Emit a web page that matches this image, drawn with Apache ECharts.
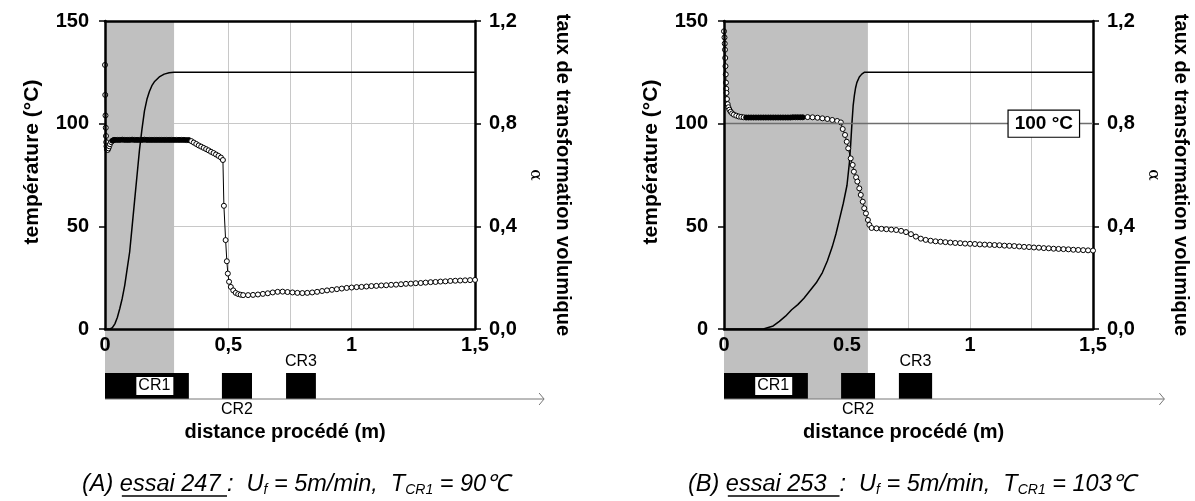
<!DOCTYPE html>
<html><head><meta charset="utf-8">
<script src="https://cdn.jsdelivr.net/npm/echarts@6/dist/echarts.min.js"></script>
<style>html,body{margin:0;padding:0;background:#fff}#c{width:1195px;height:501px}</style>
</head><body><div id="c"></div>
<script>
// ---------- DATA ----------
const xTickLabelsA = ['0','','0,5','','1','','1,5'];
const xTickLabelsB = ['0','','0.5','','1','','1,5'];
const tempTickLabels = ['0','50','100','150'];
const alphaTickLabels = ['0,0','0,4','0,8','1,2'];

// (A) essai 247 : temperature (°C) vs distance (m)
const tempA = [[0,128.6],[0.001,114],[0.002,104],[0.003,98],[0.004,94],[0.005,91],[0.006,89],[0.008,87.5],[0.011,87.2],[0.014,88],[0.017,89],[0.02,90],[0.025,91],[0.03,91.7],[0.035,92],[0.04,92.1],
[0.05,92.1],[0.06,92.1],[0.07,92.2],[0.08,92.1],[0.09,92.1],[0.10,92.1],[0.11,92.2],[0.12,92.1],[0.13,92.1],[0.14,92.1],[0.15,92.1],[0.16,92.2],[0.17,92.1],[0.18,92.1],[0.19,92.1],[0.20,92.1],[0.21,92.1],[0.22,92.1],[0.23,92.1],[0.24,92.1],[0.25,92.1],[0.26,92.1],[0.27,92.1],[0.28,92.1],[0.29,92.1],[0.30,92.1],[0.31,92.1],[0.32,92.1],[0.33,92],[0.34,92],
[0.35,91.5],[0.36,90.8],[0.37,90.1],[0.38,89.4],[0.39,88.8],[0.40,88.2],[0.41,87.6],[0.42,87],[0.43,86.3],[0.44,85.7],[0.45,85],[0.46,84.3],[0.47,83.5],[0.478,82.3],
[0.482,60],[0.489,43.3],[0.494,33],[0.498,27],[0.503,23],[0.51,20.5],[0.52,18.8],[0.53,17.6],[0.54,17],[0.55,16.7],[0.56,16.5],
[0.58,16.5],[0.60,16.6],[0.62,16.8],[0.64,17.1],[0.66,17.4],[0.68,17.8],[0.70,18.1],[0.72,18.2],[0.74,18],[0.76,17.8],[0.78,17.6],[0.80,17.5],[0.82,17.6],[0.84,17.8],[0.86,18.1],[0.88,18.5],[0.90,18.8],[0.92,19.1],[0.94,19.4],[0.96,19.7],[0.98,20],[1.00,20.2],[1.02,20.4],[1.04,20.5],[1.06,20.7],[1.08,20.9],[1.10,21],[1.12,21.2],[1.14,21.3],[1.16,21.5],[1.18,21.6],[1.20,21.8],[1.22,22],[1.24,22.1],[1.26,22.3],[1.28,22.4],[1.30,22.6],[1.32,22.8],[1.34,22.9],[1.36,23.1],[1.38,23.2],[1.40,23.4],[1.42,23.5],[1.44,23.6],[1.46,23.7],[1.48,23.8],[1.50,23.9]];
// (A) alpha (volume transformation rate)
const alphaA = [[0,0],[0.02,0],[0.03,0.005],[0.04,0.02],[0.05,0.045],[0.06,0.08],[0.07,0.12],[0.08,0.17],[0.09,0.235],[0.10,0.30],[0.11,0.40],[0.12,0.50],[0.13,0.60],[0.14,0.70],[0.15,0.78],[0.16,0.85],[0.17,0.895],[0.18,0.925],[0.19,0.948],[0.20,0.963],[0.22,0.982],[0.24,0.993],[0.26,0.998],[0.28,1.0],[1.5,1.0]];

// (B) essai 253
const tempB = [[0,145],[0.002,142],[0.003,139],[0.004,136],[0.005,132],[0.006,128],[0.007,124],[0.008,120],[0.009,117],[0.01,115],[0.012,112],[0.015,109.5],[0.018,108],[0.022,106.8],[0.027,105.8],[0.033,105],[0.04,104.4],[0.05,103.9],[0.06,103.5],[0.07,103.3],[0.08,103.1],
[0.09,103],[0.10,103],[0.11,103],[0.12,103],[0.13,103],[0.14,103],[0.15,103],[0.16,103],[0.17,103],[0.18,103],[0.19,103],[0.20,103],[0.21,103],[0.22,103],[0.23,103],[0.24,103],[0.25,103],[0.26,103],[0.27,103],[0.28,103.1],[0.29,103.1],[0.30,103.1],[0.31,103.1],[0.32,103.1],
[0.34,103.2],[0.36,103.1],[0.38,102.9],[0.40,102.6],[0.42,102.3],[0.44,101.8],[0.46,101.3],[0.475,100.6],
[0.4825,97.4],[0.492,94.5],[0.499,91.2],[0.505,88],[0.515,83.1],[0.523,79.9],[0.528,76.6],[0.537,73.9],[0.542,71.8],[0.55,68.5],[0.556,65.3],[0.564,62],[0.57,58.8],[0.577,56.3],[0.585,53.1],[0.591,50.7],[0.60,49.2],
[0.62,49],[0.64,48.8],[0.66,48.6],[0.68,48.4],[0.70,48.2],[0.72,47.8],[0.74,47.2],[0.76,46.2],[0.78,45],[0.80,44],[0.82,43.4],[0.84,43],[0.86,42.7],[0.88,42.5],[0.90,42.3],[0.92,42.1],[0.94,41.9],[0.96,41.8],[0.98,41.6],[1.00,41.5],[1.02,41.4],[1.04,41.2],[1.06,41.1],[1.08,41],[1.10,40.9],[1.12,40.8],[1.14,40.6],[1.16,40.5],[1.18,40.4],[1.20,40.2],[1.22,40],[1.24,39.9],[1.26,39.7],[1.28,39.6],[1.30,39.4],[1.32,39.3],[1.34,39.1],[1.36,39],[1.38,38.9],[1.40,38.8],[1.42,38.6],[1.44,38.5],[1.46,38.4],[1.48,38.3],[1.50,38.2]];
const alphaB = [[0,0],[0.11,0],[0.16,0],[0.2,0.012],[0.225,0.03],[0.25,0.05],[0.275,0.075],[0.3,0.095],[0.325,0.12],[0.35,0.15],[0.375,0.18],[0.4,0.22],[0.42,0.265],[0.44,0.32],[0.455,0.37],[0.47,0.43],[0.485,0.49],[0.50,0.56],[0.51,0.65],[0.515,0.72],[0.52,0.80],[0.525,0.87],[0.53,0.91],[0.535,0.94],[0.54,0.96],[0.55,0.982],[0.56,0.993],[0.57,1.0],[1.5,1.0]];

// distance ranges where the measured points are so dense they print as a solid band
const denseA = [0.03, 0.345];
const denseB = [0.085, 0.325];
// shaded zone (CR1 influence) extents, m
const grayA = [[0, 0.28]];
const grayB = [[0, 0.585]];
// cooling rollers: names, start, end (m)
const crNames = ['CR1','CR2','CR3'];
const crA = [[0,0.34],[0.474,0.596],[0.734,0.855]];
const crB = [[0,0.341],[0.476,0.614],[0.711,0.846]];
const crLabelPlace = ['inside','below','above'];
const crLabelX = [0.2, null, null];
const arrowA = [[0, 1.78]];
const arrowB = [[0, 1.79]];
const refTempB = [100];
const refLabelB = [[1.3, 100]];

// ---------- CHART ----------
const FONT = '"Liberation Sans", Arial, Helvetica, sans-serif';
const chart = echarts.init(document.getElementById('c'), null, {renderer:'canvas'});
const bold = {color:'#000', fontWeight:'bold', fontSize:20, fontFamily:FONT};

function xAxes(gi, labels){
  const base = {gridIndex:gi, type:'value', min:0, max:1.5, interval:0.25};
  return [
    Object.assign({}, base, {position:'bottom', z:0, axisLine:{show:false}, axisTick:{show:false}, axisLabel:{show:false},
      splitLine:{show:true, lineStyle:{color:'#c8c8c8', width:1}}}),
    Object.assign({}, base, {position:'bottom', z:10, axisLine:{show:true, onZero:false, lineStyle:{color:'#000', width:2.5}},
      axisTick:{show:false}, splitLine:{show:false},
      axisLabel:Object.assign({show:true, margin:6, formatter:(v)=>labels[Math.round(v/0.25)]}, bold),
      name:'distance procédé (m)', nameLocation:'middle', nameGap:93, nameTextStyle:Object.assign({}, bold, {padding:[0,10,0,0]})}),
    Object.assign({}, base, {position:'top', z:10, axisLine:{show:true, onZero:false, lineStyle:{color:'#000', width:2.5}},
      axisTick:{show:false}, axisLabel:{show:false}, splitLine:{show:false}})
  ];
}
function yAxes(gi){
  return [
    {gridIndex:gi, type:'value', min:0, max:150, interval:50, position:'left', z:10,
      axisLine:{show:true, onZero:false, lineStyle:{color:'#000', width:2.5}},
      axisTick:{show:true, length:6, lineStyle:{color:'#000', width:1.5}},
      axisLabel:Object.assign({margin:16, formatter:(v)=>tempTickLabels[Math.round(v/50)]}, bold),
      splitLine:{show:false},
      name:'température (°C)', nameLocation:'middle', nameRotate:90, nameGap:62,
      nameTextStyle:Object.assign({}, bold, {fontSize:21, padding:[0,0,0,26]})},
    {gridIndex:gi, type:'value', min:0, max:1.2, interval:0.4, position:'right', z:0,
      axisLine:{show:true, onZero:false, lineStyle:{color:'#000', width:2.5}},
      axisTick:{show:true, length:6, lineStyle:{color:'#000', width:1.5}},
      axisLabel:Object.assign({margin:14, formatter:(v)=>alphaTickLabels[Math.round(v/0.4)]}, bold),
      splitLine:{show:true, lineStyle:{color:'#c8c8c8', width:1}},
      name:'{a|taux de transformation volumique}\n{b|α}', nameLocation:'middle', nameRotate:-90, nameGap:46,
      nameTextStyle:{color:'#000', fontFamily:FONT, rich:{a:{fontSize:20, fontWeight:'bold', lineHeight:28, fontFamily:FONT, color:'#000'}, b:{fontSize:17, lineHeight:28, fontFamily:'"DejaVu Serif", serif', color:'#000'}}}}
  ];
}

function grayRender(params, api){
  const a = api.coord([api.value(0), 150]);
  const b = api.coord([api.value(1), 0]);
  return {type:'rect', shape:{x:a[0], y:a[1], width:b[0]-a[0], height:b[1]-a[1]+70}, style:{fill:'#c0c0c0'}};
}
function crRender(params, api){
  const i = params.dataIndex;
  const p0 = api.coord([api.value(0), 0]);
  const p1 = api.coord([api.value(1), 0]);
  const top = p0[1] + 44, h = 26;
  const children = [{type:'rect', shape:{x:p0[0], y:top, width:p1[0]-p0[0], height:h}, style:{fill:'#000'}}];
  const place = crLabelPlace[i];
  const font = '16px ' + FONT;
  if (place === 'inside'){
    const cx = api.coord([crLabelX[i], 0])[0];
    children.push({type:'rect', shape:{x:cx-18, y:top+4, width:37, height:18}, style:{fill:'#fff'}});
    children.push({type:'text', style:{text:crNames[i], x:cx, y:top+13, align:'center', verticalAlign:'middle', font:font, fill:'#000'}});
  } else {
    const cx = (p0[0]+p1[0])/2;
    const ty = place === 'below' ? top + h + 11 : top - 11;
    children.push({type:'text', style:{text:crNames[i], x:cx, y:ty, align:'center', verticalAlign:'middle', font:font, fill:'#000'}});
  }
  return {type:'group', children};
}
function arrowRender(params, api){
  const p0 = api.coord([api.value(0), 0]);
  const p1 = api.coord([api.value(1), 0]);
  const y = p0[1] + 70;
  return {type:'group', children:[
    {type:'line', shape:{x1:p0[0], y1:y, x2:p1[0], y2:y}, style:{stroke:'#777', lineWidth:1}},
    {type:'polyline', shape:{points:[[p1[0]-5,y-6],[p1[0],y],[p1[0]-5,y+6]]}, style:{stroke:'#777', lineWidth:1, fill:null}}
  ]};
}

function styledTemp(temp, dense){
  return temp.map(p => (p[0] >= dense[0] && p[0] <= dense[1]) ? {value:p, itemStyle:{color:'#000'}} : p);
}

function seriesFor(gi, temp, alpha, dense, gray, cr, arrow, withRef){
  const xi = 3*gi, yt = 2*gi, ya = 2*gi+1;
  const tempSeries = {type:'line', xAxisIndex:xi, yAxisIndex:yt, data:styledTemp(temp, dense), z:3, symbol:'circle', symbolSize:5, showSymbol:true, showAllSymbol:true,
    itemStyle:{color:'#fff', borderColor:'#000', borderWidth:1}, lineStyle:{color:'#000', width:1}, animation:false, silent:true};
  if (withRef){
    tempSeries.markLine = {silent:true, symbol:['none','none'], label:{show:false}, lineStyle:{color:'#6e6e6e', width:1.3, type:'solid'},
      data: refTempB.map(v=>({yAxis:v})), animation:false};
    tempSeries.markPoint = {silent:true, symbol:'rect', symbolSize:1, itemStyle:{color:'rgba(0,0,0,0)'},
      label:{show:true, position:'inside', formatter:'100 °C', color:'#000', fontWeight:'bold', fontSize:19, fontFamily:FONT,
        backgroundColor:'#fff', borderColor:'#000', borderWidth:1.2, padding:[4,6,3,6]},
      data: refLabelB.map(c=>({coord:c})), animation:false};
  }
  return [
    {type:'custom', xAxisIndex:xi, yAxisIndex:yt, data:gray, renderItem:grayRender, clip:false, silent:true, z:1, animation:false},
    {type:'line', xAxisIndex:xi, yAxisIndex:ya, data:alpha, z:2, showSymbol:false, symbol:'none', lineStyle:{color:'#000', width:1.5}, animation:false, silent:true},
    tempSeries,
    {type:'custom', xAxisIndex:xi, yAxisIndex:yt, data:cr, renderItem:crRender, clip:false, silent:true, z:4, animation:false},
    {type:'custom', xAxisIndex:xi, yAxisIndex:yt, data:arrow, renderItem:arrowRender, clip:false, silent:true, z:4, animation:false}
  ];
}

// captions (text layout measured with canvas)
const mctx = document.createElement('canvas').getContext('2d');
const mainFont = 'italic 23.5px ' + FONT;
const subFont = 'italic 14px ' + FONT;
function caption(runs, x0, yMid){
  let x = x0; const els = [];
  runs.forEach(r=>{
    const f = r.sub ? subFont : mainFont;
    mctx.font = f;
    const w = mctx.measureText(r.t).width;
    els.push({type:'text', silent:true, style:{text:r.t, x:x, y:yMid + (r.sub?6:0), font:f, fill:'#000', align:'left', verticalAlign:'middle'}});
    if (r.u) els.push({type:'line', silent:true, shape:{x1:x+2, y1:yMid+12, x2:x+w, y2:yMid+12}, style:{stroke:'#000', lineWidth:1.5}});
    x += w;
  });
  return els;
}
const capA = [{t:'(A) '},{t:'essai 247 ',u:true},{t:':  U'},{t:'f',sub:true},{t:' = 5m/min,  T'},{t:'CR1',sub:true},{t:' = 90℃'}];
const capB = [{t:'(B) '},{t:'essai 253  ',u:true},{t:':  U'},{t:'f',sub:true},{t:' = 5m/min,  T'},{t:'CR1',sub:true},{t:' = 103℃'}];

const option = {
  animation:false,
  backgroundColor:'#fff',
  grid:[{left:105, top:21, width:370, height:308}, {left:724, top:21, width:369, height:308}],
  xAxis:[].concat(xAxes(0, xTickLabelsA), xAxes(1, xTickLabelsB)),
  yAxis:[].concat(yAxes(0), yAxes(1)),
  series:[].concat(seriesFor(0, tempA, alphaA, denseA, grayA, crA, arrowA, false), seriesFor(1, tempB, alphaB, denseB, grayB, crB, arrowB, true)),
  graphic:[].concat(caption(capA, 82, 484), caption(capB, 688, 484))
};
chart.setOption(option);
</script>
</body></html>
